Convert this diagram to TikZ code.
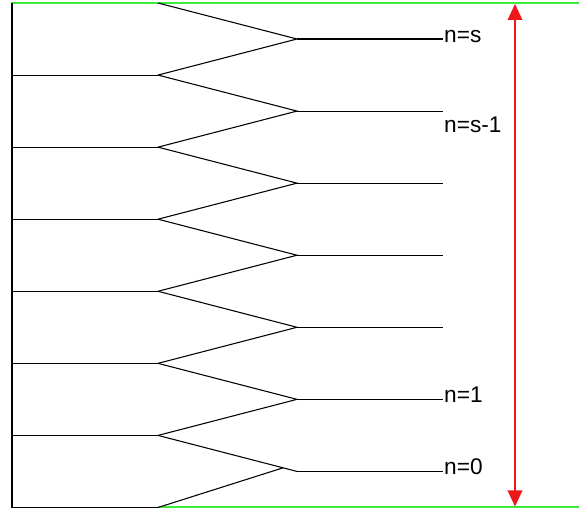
\documentclass[tikz,border=0pt]{standalone}
\usepackage{fontspec}
\setmainfont{Liberation Sans}
\usetikzlibrary{calc, arrows.meta}
\definecolor{edgegreen}{RGB}{60,235,60}
\definecolor{arrowred}{RGB}{235,25,25}

\begin{document}
\begin{tikzpicture}[x=0.75pt, y=-0.75pt, line width=0.8pt,
    level label/.style={font=\fontsize{17pt}{20pt}\selectfont, inner sep=0.5pt}]

    % --- 参数定义 ---
    \def\xWall{12}   % 左侧竖线
    \def\xFork{158}  % 分叉点
    \def\xApex{297}  % 汇合点
    \def\xEnd{443}   % 右端
    \def\yTop{3}     % 顶部
    \def\pitch{72.07} % 间距
    \def\half{36}    % 半间距

    \useasboundingbox (0,0) rectangle (579,510);

    % 坐标计算
    \foreach \k in {0,...,7} {
        \coordinate (Wall\k) at (\xWall, \yTop+\k*\pitch);
        \coordinate (Fork\k) at (\xFork, \yTop+\k*\pitch);
    }
    \foreach \k in {0,...,6} {
        \coordinate (Apex\k) at (\xApex, \yTop+\k*\pitch+\half);
        \coordinate (End\k) at (\xEnd, \yTop+\k*\pitch+\half);
    }

    % --- 边界线 ---
    \draw[edgegreen, line width=1.5pt] (\xWall-1, \yTop) -- (579, \yTop);
    \draw[edgegreen, line width=1.5pt] (Fork7) -- (579, \yTop+7*\pitch);
    \draw (Wall0) -- (Wall7) -- (Fork7);

    % --- 左侧水平线 ---
    \foreach \k in {1,...,6}
        \draw (Wall\k) -- (Fork\k);

    % --- 锯齿线 ---
    \foreach \k [evaluate=\k as \n using int(\k+1)] in {0,...,5}
        \draw (Fork\k) -- (Apex\k) -- (Fork\n);
    \draw (Fork6) -- (Apex6);
    \draw (Fork7) -- ($(Fork6)!0.9!(Apex6)$);

    % --- 右侧水平线 ---
    \foreach \k in {0,...,6}
        \draw (Apex\k) -- (End\k);

    % --- 标签 ---
    \node[level label, anchor=mid west] at (End0) {n=s};
    \node[level label, anchor=north west] at ($(End1)+(0,5)$) {n=s-1};
    \node[level label, anchor=mid west] at (End5) {n=1};
    \node[level label, anchor=mid west] at (End6) {n=0};

    % --- 红色箭头 ---
    \draw[arrowred, line width=1pt, {Triangle[width=11pt, length=12pt]}-{Triangle[width=11pt, length=12pt]}]
        (515, \yTop+1) -- (515, \yTop+7*\pitch-1);

\end{tikzpicture}
\end{document}
